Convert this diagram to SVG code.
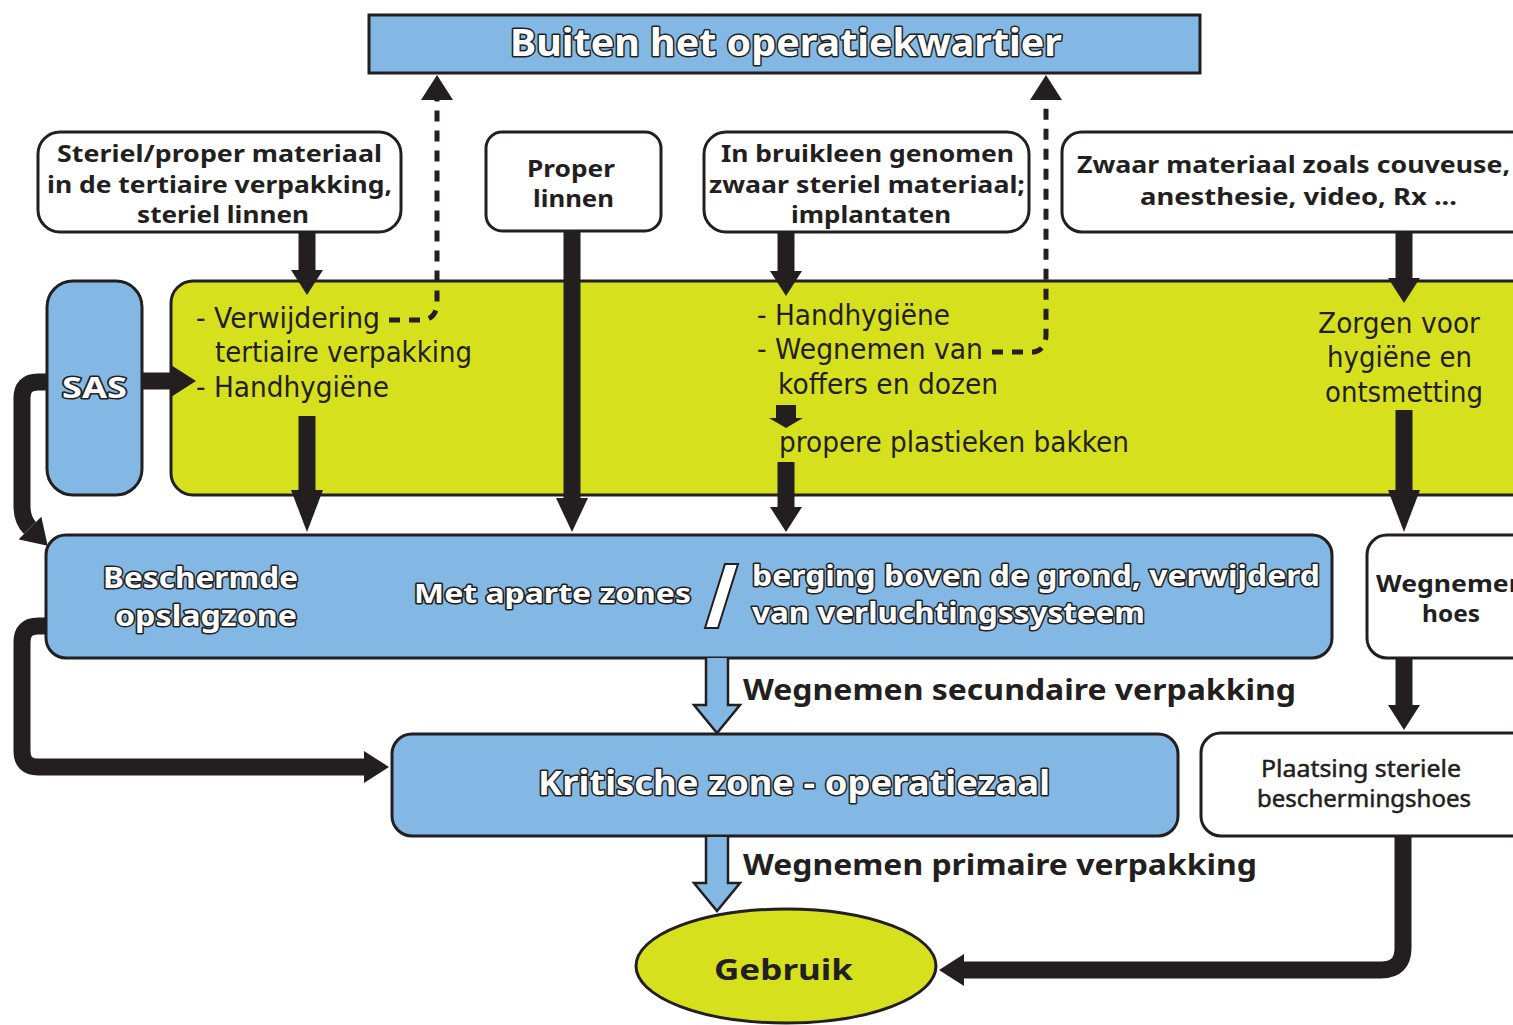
<svg xmlns="http://www.w3.org/2000/svg" width="1513" height="1025" viewBox="0 0 1513 1025">
<style>
.blue{fill:#82b8e3;stroke:#231f20;stroke-width:3}
.green{fill:#d6e01d;stroke:#231f20;stroke-width:3}
.white{fill:#ffffff;stroke:#231f20;stroke-width:3}
.bx{font-family:"Noto Sans","DejaVu Sans",sans-serif;font-weight:bold;font-size:23px;fill:#231f20}
.gt{font-family:"DejaVu Sans","Noto Sans",sans-serif;font-size:28px;fill:#231f20}
.ol{font-family:"Noto Sans","DejaVu Sans",sans-serif;font-weight:bold;fill:#ffffff;stroke:#231f20;stroke-width:3;paint-order:stroke;stroke-linejoin:round}
.lb{font-family:"Noto Sans","DejaVu Sans",sans-serif;font-weight:bold;font-size:28px;fill:#231f20}
.cn{font-family:"Noto Sans","DejaVu Sans",sans-serif;font-size:23px;fill:#231f20;stroke:#231f20;stroke-width:0.5}
.arr{fill:none;stroke:#231f20;stroke-width:17}
.dash{fill:none;stroke:#231f20;stroke-width:5;stroke-dasharray:11 9}
.barr{fill:#82b8e3;stroke:#231f20;stroke-width:2.5;stroke-linejoin:miter}
</style>
<defs>
<marker id="ahS" markerUnits="userSpaceOnUse" markerWidth="25" markerHeight="32" viewBox="0 0 25 32" refX="0" refY="16" orient="auto"><path d="M0,0 L25,16 L0,32 Z" fill="#231f20"/></marker>
<marker id="ahM" markerUnits="userSpaceOnUse" markerWidth="34" markerHeight="32" viewBox="0 0 34 32" refX="0" refY="16" orient="auto"><path d="M0,0 L34,16 L0,32 Z" fill="#231f20"/></marker>
<marker id="ahL" markerUnits="userSpaceOnUse" markerWidth="42" markerHeight="32" viewBox="0 0 42 32" refX="0" refY="16" orient="auto"><path d="M0,0 L42,16 L0,32 Z" fill="#231f20"/></marker>
<marker id="ahT" markerUnits="userSpaceOnUse" markerWidth="10" markerHeight="34" viewBox="0 0 10 34" refX="0" refY="17" orient="auto"><path d="M0,0 L10,17 L0,34 Z" fill="#231f20"/></marker>
<marker id="ahD" markerUnits="userSpaceOnUse" markerWidth="25" markerHeight="32" viewBox="0 0 25 32" refX="0" refY="16" orient="auto"><path d="M0,0 L25,16 L0,32 Z" fill="#231f20"/></marker>
</defs>
<rect width="1513" height="1025" fill="#ffffff"/>

<g id="buiten">
<rect class="blue" x="369" y="15" width="831" height="58"/>
<text class="ol" x="510" y="56" font-size="38" textLength="552" lengthAdjust="spacingAndGlyphs">Buiten het operatiekwartier</text>
</g>

<g id="steriel">
<rect class="white" x="38" y="132" width="363" height="100" rx="22"/>
<text class="bx" x="57" y="162" textLength="325" lengthAdjust="spacingAndGlyphs">Steriel/proper materiaal</text>
<text class="bx" x="47" y="193" textLength="345" lengthAdjust="spacingAndGlyphs">in de tertiaire verpakking,</text>
<text class="bx" x="137" y="223" textLength="172" lengthAdjust="spacingAndGlyphs">steriel linnen</text>
</g>

<g id="linnen">
<rect class="white" x="486" y="132" width="175" height="99" rx="16"/>
<text class="bx" x="527" y="177" textLength="88" lengthAdjust="spacingAndGlyphs">Proper</text>
<text class="bx" x="533" y="207" textLength="81" lengthAdjust="spacingAndGlyphs">linnen</text>
</g>

<g id="bruikleen">
<rect class="white" x="704" y="132" width="325" height="100" rx="22"/>
<text class="bx" x="721" y="162" textLength="293" lengthAdjust="spacingAndGlyphs">In bruikleen genomen</text>
<text class="bx" x="709" y="193" textLength="316" lengthAdjust="spacingAndGlyphs">zwaar steriel materiaal;</text>
<text class="bx" x="791" y="223" textLength="160" lengthAdjust="spacingAndGlyphs">implantaten</text>
</g>

<g id="zwaar">
<rect class="white" x="1062" y="132" width="480" height="100" rx="20"/>
<text class="bx" x="1077" y="173" textLength="433" lengthAdjust="spacingAndGlyphs">Zwaar materiaal zoals couveuse,</text>
<text class="bx" x="1140" y="205" textLength="317" lengthAdjust="spacingAndGlyphs">anesthesie, video, Rx ...</text>
</g>

<g id="sas">
<rect class="blue" x="47" y="281" width="95" height="214" rx="26"/>
<text class="ol" x="62" y="398" font-size="29" textLength="65" lengthAdjust="spacingAndGlyphs">SAS</text>
</g>

<g id="hygiene">
<rect class="green" x="171" y="281" width="1380" height="214" rx="22"/>
<text class="gt" x="196" y="328" textLength="184" lengthAdjust="spacingAndGlyphs">- Verwijdering</text>
<text class="gt" x="215" y="362" textLength="257" lengthAdjust="spacingAndGlyphs">tertiaire verpakking</text>
<text class="gt" x="196" y="397" textLength="193" lengthAdjust="spacingAndGlyphs">- Handhygiëne</text>
<text class="gt" x="757" y="325" textLength="193" lengthAdjust="spacingAndGlyphs">- Handhygiëne</text>
<text class="gt" x="757" y="359" textLength="226" lengthAdjust="spacingAndGlyphs">- Wegnemen van</text>
<text class="gt" x="778" y="394" textLength="220" lengthAdjust="spacingAndGlyphs">koffers en dozen</text>
<text class="gt" x="779" y="452" textLength="350" lengthAdjust="spacingAndGlyphs">propere plastieken bakken</text>
<text class="gt" x="1318" y="333" textLength="162" lengthAdjust="spacingAndGlyphs">Zorgen voor</text>
<text class="gt" x="1327" y="367" textLength="145" lengthAdjust="spacingAndGlyphs">hygiëne en</text>
<text class="gt" x="1325" y="402" textLength="158" lengthAdjust="spacingAndGlyphs">ontsmetting</text>
</g>

<g id="opslagzone">
<rect class="blue" x="46" y="535" width="1286" height="123" rx="20"/>
<text class="ol" x="103" y="588" font-size="29" textLength="195" lengthAdjust="spacingAndGlyphs">Beschermde</text>
<text class="ol" x="115" y="626" font-size="29" textLength="182" lengthAdjust="spacingAndGlyphs">opslagzone</text>
<text class="ol" x="414" y="603" font-size="27" textLength="277" lengthAdjust="spacingAndGlyphs">Met aparte zones</text>
<polygon points="705,628 718,628 738,564 725,564" fill="#ffffff" stroke="#231f20" stroke-width="2"/>
<text class="ol" x="752" y="586" font-size="29" textLength="568" lengthAdjust="spacingAndGlyphs">berging boven de grond, verwijderd</text>
<text class="ol" x="752" y="623" font-size="29" textLength="393" lengthAdjust="spacingAndGlyphs">van verluchtingssysteem</text>
</g>

<g id="hoes">
<rect class="white" x="1367" y="535" width="180" height="123" rx="20"/>
<text class="bx" x="1376" y="592" font-size="22" textLength="150" lengthAdjust="spacingAndGlyphs">Wegnemen</text>
<text class="bx" x="1422" y="622" font-size="22" textLength="58" lengthAdjust="spacingAndGlyphs">hoes</text>
</g>

<g id="kritisch">
<rect class="blue" x="392" y="734" width="786" height="102" rx="20"/>
<text class="ol" x="538" y="795" font-size="34" textLength="512" lengthAdjust="spacingAndGlyphs">Kritische zone - operatiezaal</text>
</g>

<g id="plaatsing">
<rect class="white" x="1201" y="733" width="340" height="103" rx="20"/>
<text class="cn" x="1261" y="777" textLength="200" lengthAdjust="spacingAndGlyphs">Plaatsing steriele</text>
<text class="cn" x="1257" y="807" textLength="214" lengthAdjust="spacingAndGlyphs">beschermingshoes</text>
</g>

<g id="gebruik">
<ellipse cx="786" cy="966" rx="150" ry="57" fill="#d6e01d" stroke="#231f20" stroke-width="3"/>
<text class="lb" x="714" y="980" font-size="32" textLength="139" lengthAdjust="spacingAndGlyphs">Gebruik</text>
</g>

<g id="connectors">
<path class="arr" d="M307,232 V270" marker-end="url(#ahS)"/>
<path class="arr" d="M307,416 V490" marker-end="url(#ahL)"/>
<path class="arr" d="M572,232 V498" marker-end="url(#ahM)"/>
<path class="arr" d="M786,232 V271" marker-end="url(#ahS)"/>
<path class="arr" style="stroke-width:20" d="M786,405 V418" marker-end="url(#ahT)"/>
<path class="arr" d="M786,462 V507" marker-end="url(#ahS)"/>
<path class="arr" d="M1404,232 V278" marker-end="url(#ahS)"/>
<path class="arr" d="M1404,410 V490" marker-end="url(#ahL)"/>
<path class="arr" d="M1404,658 V705" marker-end="url(#ahS)"/>
<path class="arr" d="M1403,837 V948 Q1403,970 1381,970 H964" marker-end="url(#ahS)"/>
<path class="arr" d="M142,381 H171" marker-end="url(#ahS)"/>
<path class="arr" d="M47,382 H38 Q22,382 22,398 V506 Q22,520 30,528" marker-end="url(#ahS)"/>
<path class="arr" d="M46,626 H38 Q22,626 22,642 V751 Q22,767 38,767 H364" marker-end="url(#ahS)"/>
<path class="dash" d="M389,320 H424 Q436,318 437,304 V100" marker-end="url(#ahD)"/>
<path class="dash" d="M992,352 H1034 Q1045,350 1046,336 V100" marker-end="url(#ahD)"/>
<path class="barr" d="M706,658 V705 H694 L717,733 L740,705 H728 V658"/>
<path class="barr" d="M706,837 V883 H694 L717,911 L740,883 H728 V837"/>
<text class="lb" x="743" y="700" textLength="553" lengthAdjust="spacingAndGlyphs">Wegnemen secundaire verpakking</text>
<text class="lb" x="743" y="875" textLength="514" lengthAdjust="spacingAndGlyphs">Wegnemen primaire verpakking</text>
</g>
</svg>
